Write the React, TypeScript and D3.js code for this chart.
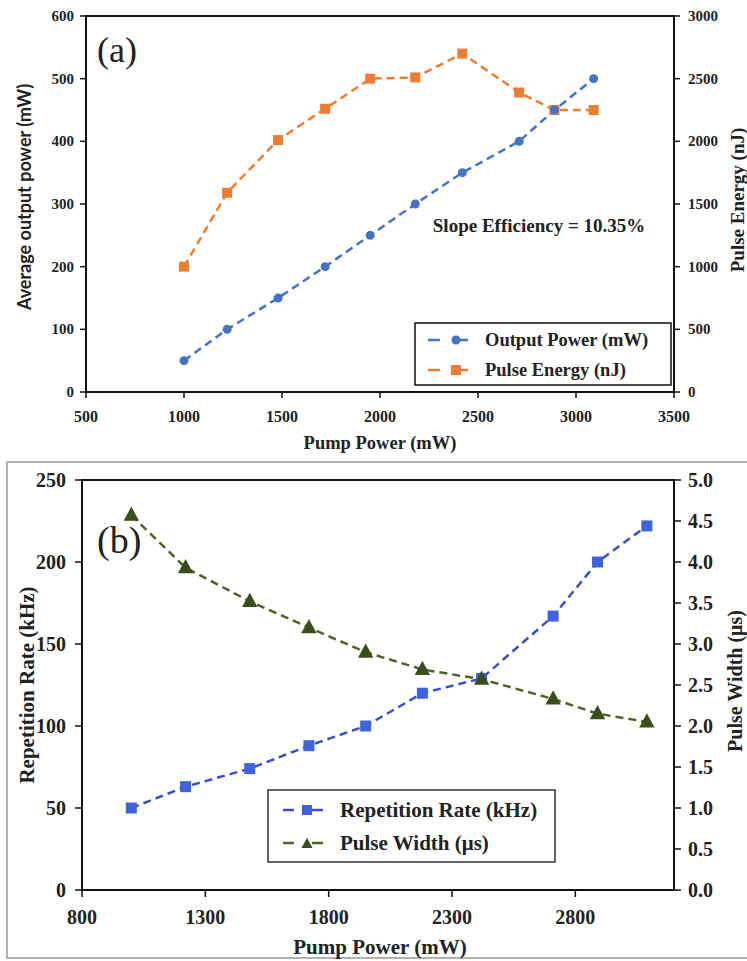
import { scaleLinear, line } from "d3";

// shared pump power values (mW)
const pumpPower = [1000, 1220, 1480, 1720, 1950, 2180, 2420, 2710, 2890, 3090];

// panel (a)
const outputPower = [50, 100, 150, 200, 250, 300, 350, 400, 450, 500];
const pulseEnergy = [1000, 1590, 2010, 2260, 2500, 2510, 2700, 2390, 2250, 2250];
const aXTicks = [500, 1000, 1500, 2000, 2500, 3000, 3500];
const aYTicks = [0, 100, 200, 300, 400, 500, 600];
const aY2Ticks = [0, 500, 1000, 1500, 2000, 2500, 3000];

// panel (b)
const repRate = [50, 63, 74, 88, 100, 120, 129, 167, 200, 222];
const pulseWidth = [4.57, 3.93, 3.52, 3.2, 2.9, 2.69, 2.57, 2.33, 2.15, 2.05];
const bXTicks = [800, 1300, 1800, 2300, 2800];
const bYTicks = [0, 50, 100, 150, 200, 250];
const bY2Ticks = [0, 0.5, 1, 1.5, 2, 2.5, 3, 3.5, 4, 4.5, 5];

const serif = "'Liberation Serif', 'Times New Roman', serif";
const sans = "Lato, 'Open Sans', sans-serif";

const width = 747;
const height = 961;

// scales panel a
const xA = scaleLinear().domain([500, 3500]).range([86, 674]);
const yA = scaleLinear().domain([0, 600]).range([392, 16]);
const yA2 = scaleLinear().domain([0, 3000]).range([392, 16]);

// scales panel b
const xB = scaleLinear().domain([800, 3200]).range([82, 674]);
const yB = scaleLinear().domain([0, 250]).range([890, 480]);
const yB2 = scaleLinear().domain([0, 5]).range([890, 480]);

const blueA = "#4472C4";
const orangeA = "#ED7D31";
const blueB = "#3F63DC";
const greenB = "#3A4D1C";

const Triangle = ({ x, y, s, fill }) => (
  <path d={`M${x},${y - s * 0.62}L${x + s * 0.55},${y + s * 0.4}L${x - s * 0.55},${y + s * 0.4}Z`} fill={fill} />
);

const App = () => {
  const lineOut = line<number>().x((d, i) => xA(pumpPower[i])).y((d) => yA(d));
  const lineEnergy = line<number>().x((d, i) => xA(pumpPower[i])).y((d) => yA2(d));
  const lineRep = line<number>().x((d, i) => xB(pumpPower[i])).y((d) => yB(d));
  const lineWidth = line<number>().x((d, i) => xB(pumpPower[i])).y((d) => yB2(d));

  return (
    <svg width={width} height={height} style={{ position: "absolute", left: 0, top: 0, background: "#fff" }}>
      {/* ===== panel (a) ===== */}
      <g>
        <rect x={86} y={16} width={588} height={376} fill="none" stroke="#111" strokeWidth={2} />
        {aXTicks.map((t) => (
          <g key={t}>
            <line x1={xA(t)} x2={xA(t)} y1={392} y2={398} stroke="#111" strokeWidth={1.5} />
            <text x={xA(t)} y={422} textAnchor="middle" fontFamily={serif} fontWeight="bold" fontSize={16} fill="#222">
              {t}
            </text>
          </g>
        ))}
        {aYTicks.map((t) => (
          <g key={t}>
            <line x1={80} x2={86} y1={yA(t)} y2={yA(t)} stroke="#111" strokeWidth={1.5} />
            <text x={74} y={yA(t) + 5} textAnchor="end" fontFamily={serif} fontWeight="bold" fontSize={15} fill="#222">
              {t}
            </text>
          </g>
        ))}
        {aY2Ticks.map((t) => (
          <g key={t}>
            <line x1={674} x2={680} y1={yA2(t)} y2={yA2(t)} stroke="#111" strokeWidth={1.5} />
            <text x={688} y={yA2(t) + 5} textAnchor="start" fontFamily={serif} fontWeight="bold" fontSize={15} fill="#222">
              {t}
            </text>
          </g>
        ))}
        <text x={380} y={449} textAnchor="middle" fontFamily={serif} fontWeight="bold" fontSize={18.5} fill="#222">
          Pump Power (mW)
        </text>
        <text transform="translate(31,197) rotate(-90)" textAnchor="middle" fontFamily={sans} fontWeight="bold" fontSize={18} fill="#222">
          Average output power (mW)
        </text>
        <text transform="translate(744,200) rotate(-90)" textAnchor="middle" fontFamily={serif} fontWeight="bold" fontSize={19} fill="#222">
          Pulse Energy (nJ)
        </text>
        <text x={97} y={62} fontFamily={serif} fontSize={36} fill="#222">
          (a)
        </text>
        <text x={539} y={232} textAnchor="middle" fontFamily={serif} fontWeight="bold" fontSize={19} fill="#222">
          Slope Efficiency = 10.35%
        </text>

        <path d={lineEnergy(pulseEnergy)} fill="none" stroke={orangeA} strokeWidth={2.5} strokeDasharray="8,5" />
        <path d={lineOut(outputPower)} fill="none" stroke={blueA} strokeWidth={2.5} strokeDasharray="8,5" />
        {pulseEnergy.map((d, i) => (
          <rect key={i} x={xA(pumpPower[i]) - 5} y={yA2(d) - 5} width={10} height={10} fill={orangeA} />
        ))}
        {outputPower.map((d, i) => (
          <circle key={i} cx={xA(pumpPower[i])} cy={yA(d)} r={4.5} fill={blueA} />
        ))}

        {/* legend a */}
        <rect x={415} y={323} width={256} height={62} fill="#fff" stroke="#111" strokeWidth={1.5} />
        <line x1={428} x2={482} y1={340} y2={340} stroke={blueA} strokeWidth={2.5} strokeDasharray="12,16" />
        <circle cx={456} cy={340} r={4.5} fill={blueA} />
        <text x={485} y={346} fontFamily={serif} fontWeight="bold" fontSize={18.5} fill="#222">
          Output Power (mW)
        </text>
        <line x1={428} x2={482} y1={370} y2={370} stroke={orangeA} strokeWidth={2.5} strokeDasharray="12,16" />
        <rect x={451} y={365} width={10} height={10} fill={orangeA} />
        <text x={485} y={376} fontFamily={serif} fontWeight="bold" fontSize={18.5} fill="#222">
          Pulse Energy (nJ)
        </text>
      </g>

      {/* ===== panel (b) ===== */}
      <g>
        <rect x={7} y={462} width={745} height={496} fill="none" stroke="#999" strokeWidth={1.5} />
        <rect x={82} y={480} width={592} height={410} fill="none" stroke="#111" strokeWidth={2} />
        {bXTicks.map((t) => (
          <g key={t}>
            <line x1={xB(t)} x2={xB(t)} y1={890} y2={897} stroke="#111" strokeWidth={1.5} />
            <text x={xB(t)} y={924} textAnchor="middle" fontFamily={serif} fontWeight="bold" fontSize={20} fill="#222">
              {t}
            </text>
          </g>
        ))}
        {bYTicks.map((t) => (
          <g key={t}>
            <line x1={75} x2={82} y1={yB(t)} y2={yB(t)} stroke="#111" strokeWidth={1.5} />
            <text x={66} y={yB(t) + 7} textAnchor="end" fontFamily={serif} fontWeight="bold" fontSize={20} fill="#222">
              {t}
            </text>
          </g>
        ))}
        {bY2Ticks.map((t) => (
          <g key={t}>
            <line x1={674} x2={681} y1={yB2(t)} y2={yB2(t)} stroke="#111" strokeWidth={1.5} />
            <text x={688} y={yB2(t) + 7} textAnchor="start" fontFamily={serif} fontWeight="bold" fontSize={20} fill="#222">
              {t.toFixed(1)}
            </text>
          </g>
        ))}
        <text x={380} y={954} textAnchor="middle" fontFamily={serif} fontWeight="bold" fontSize={21} fill="#222">
          Pump Power (mW)
        </text>
        <text transform="translate(34,685) rotate(-90)" textAnchor="middle" fontFamily={serif} fontWeight="bold" fontSize={21} fill="#222">
          Repetition Rate (kHz)
        </text>
        <text transform="translate(742,681) rotate(-90)" textAnchor="middle" fontFamily={serif} fontWeight="bold" fontSize={20} fill="#222">
          Pulse Width  (μs)
        </text>
        <text x={97} y={553} fontFamily={serif} fontSize={38} fill="#222">
          (b)
        </text>

        <path d={lineWidth(pulseWidth)} fill="none" stroke="#4F6228" strokeWidth={2.5} strokeDasharray="8,5" />
        <path d={lineRep(repRate)} fill="none" stroke="#3A50C0" strokeWidth={2.5} strokeDasharray="8,5" />
        {repRate.map((d, i) => (
          <rect key={i} x={xB(pumpPower[i]) - 5.5} y={yB(d) - 5.5} width={11} height={11} fill={blueB} />
        ))}
        {pulseWidth.map((d, i) => (
          <Triangle key={i} x={xB(pumpPower[i])} y={yB2(d)} s={14} fill={greenB} />
        ))}

        {/* legend b */}
        <rect x={268} y={790} width={287} height={72} fill="#fff" stroke="#333" strokeWidth={1.5} />
        <line x1={283} x2={336} y1={810} y2={810} stroke="#3A50C0" strokeWidth={2.5} strokeDasharray="11,18" />
        <rect x={302} y={805} width={10} height={10} fill={blueB} />
        <text x={340} y={817} fontFamily={serif} fontWeight="bold" fontSize={21} fill="#222">
          Repetition Rate (kHz)
        </text>
        <line x1={283} x2={336} y1={843} y2={843} stroke="#4F6228" strokeWidth={2.5} strokeDasharray="11,18" />
        <Triangle x={307} y={844} s={10} fill={greenB} />
        <text x={340} y={850} fontFamily={serif} fontWeight="bold" fontSize={21} fill="#222">
          Pulse Width  (μs)
        </text>
      </g>
    </svg>
  );
};

export default App;
